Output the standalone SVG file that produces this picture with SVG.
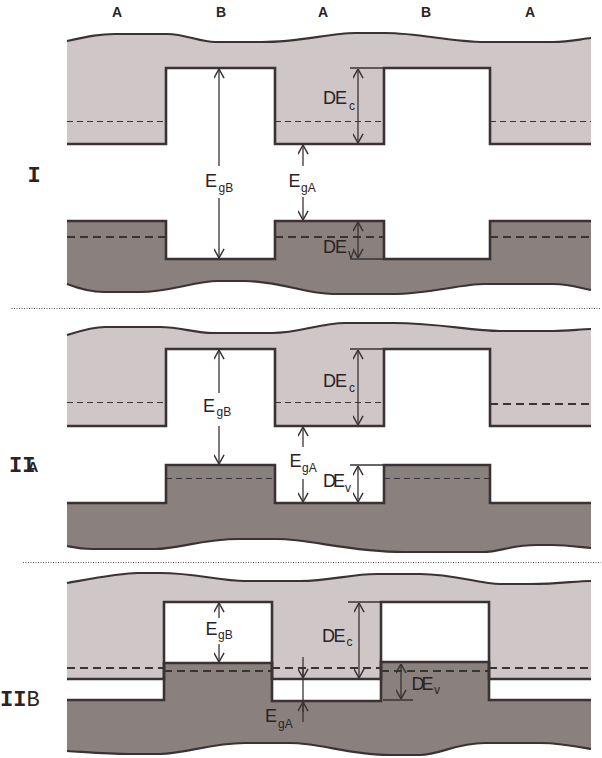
<svg xmlns="http://www.w3.org/2000/svg" width="602" height="758" viewBox="0 0 602 758">
<style>
.cb{fill:#cfc7c7;stroke:none}
.vb{fill:#8a807d;stroke:none}
.wave{fill:none;stroke:#3a3234;stroke-width:2.2}
.step{fill:none;stroke:#3a3234;stroke-width:2.6}
.dt{fill:none;stroke:#3a3234;stroke-width:1;stroke-dasharray:6 4}
.dk{fill:none;stroke:#3a3234;stroke-width:2;stroke-dasharray:8 5}
.sep{fill:none;stroke:#555;stroke-width:1;stroke-dasharray:1 1.5}
.arr{fill:none;stroke:#3a3234;stroke-width:1.3}
.arr1{marker-end:url(#ah)}
.arr2{marker-start:url(#ah);marker-end:url(#ah)}
.tick{fill:none;stroke:#3a3234;stroke-width:1.5}
.hd{font-family:"Liberation Sans",Arial,sans-serif;font-weight:bold;font-size:14px;fill:#2a2224;text-anchor:middle}
.big{font-family:"Liberation Sans",Arial,sans-serif;font-size:18px;fill:#2a2224}
.sub{font-family:"Liberation Sans",Arial,sans-serif;font-size:12px;fill:#2a2224}
.rom{font-family:"Liberation Mono","Courier New",monospace;font-size:22px;fill:#2a2224}
</style>
<defs>
<marker id="ah" viewBox="0 0 10 12" refX="10" refY="6" markerWidth="10" markerHeight="11" markerUnits="userSpaceOnUse" orient="auto-start-reverse">
<path d="M0,0.5 L10,6 L0,11.5" fill="none" stroke="#3a3234" stroke-width="1.6"/>
</marker>
</defs>

<g id="top-labels">
<text class="hd" x="117" y="17">A</text>
<text class="hd" x="221" y="17">B</text>
<text class="hd" x="323" y="17">A</text>
<text class="hd" x="426" y="17">B</text>
<text class="hd" x="530" y="17">A</text>
</g>

<!-- Section I -->
<g id="sec-I">
<g id="I-conduction">
<path class="cb" d="M67,41 C90,36 100,34 115,34 L167,34 C185,34 200,42 215,42 L262,42 C300,42 330,33 355,33 L385,33 C420,33 450,42 485,42 L553,42 C570,42 580,39 591,38 V144 H490 V68 H384 V144 H275 V68 H166 V144 H67 Z"/>
<path class="wave" d="M67,41 C90,36 100,34 115,34 L167,34 C185,34 200,42 215,42 L262,42 C300,42 330,33 355,33 L385,33 C420,33 450,42 485,42 L553,42 C570,42 580,39 591,38"/>
<path class="dt" d="M67,121.5 H166 M275,121.5 H384 M490,121.5 H591"/>
<path class="step" d="M67,144 H166 V68 H275 V144 H384 V68 H490 V144 H591"/>
</g>
<g id="I-valence">
<path class="vb" d="M67,221 H166 V259 H275 V221 H384 V259 H490 V221 H591 V290 C580,288 570,284 553,284 L485,284 C460,284 430,294 392,294 L333,294 C305,294 280,281 245,281 L218,281 C195,281 170,292 140,292 L104,292 C90,292 80,289 67,284 Z"/>
<path class="wave" d="M591,290 C580,288 570,284 553,284 L485,284 C460,284 430,294 392,294 L333,294 C305,294 280,281 245,281 L218,281 C195,281 170,292 140,292 L104,292 C90,292 80,289 67,284"/>
<path class="dk" d="M67,237 H166 M275,237 H384 M490,237 H591"/>
<path class="step" d="M67,221 H166 V259 H275 V221 H384 V259 H490 V221 H591"/>
</g>
<g id="I-labels">
<text class="rom" x="34" y="182" text-anchor="middle" font-weight="bold">I</text>
<text class="big" x="205" y="187">E</text><text class="sub" x="218.5" y="192">gB</text>
<text class="big" x="288.5" y="187">E</text><text class="sub" x="301" y="192">gA</text>
<text class="big" x="323" y="104" letter-spacing="-1">DE</text><text class="sub" x="349" y="110">c</text>
<text class="big" x="323" y="253" letter-spacing="-1">DE</text><text class="sub" x="348" y="258">v</text>
</g>
</g>

<path class="sep" d="M11.5,308.5 H601"/>

<!-- Section IIA -->
<g id="sec-IIA">
<g id="IIA-conduction">
<path class="cb" d="M67,335 C80,331 92,327 105,327 L160,327 C180,327 195,333 213,333 L272,333 C300,333 320,323 345,323 L393,323 C440,323 470,331 500,331 L553,331 C570,331 580,329 591,329 V426 H490 V349 H384 V426 H275 V349 H166 V426 H67 Z"/>
<path class="wave" d="M67,335 C80,331 92,327 105,327 L160,327 C180,327 195,333 213,333 L272,333 C300,333 320,323 345,323 L393,323 C440,323 470,331 500,331 L553,331 C570,331 580,329 591,329"/>
<path class="dt" d="M67,402.5 H166 M275,402.5 H384"/>
<path class="dk" d="M490,404 H591"/>
<path class="step" d="M67,426 H166 V349 H275 V426 H384 V349 H490 V426 H591"/>
</g>
<g id="IIA-valence">
<path class="vb" d="M67,503 H166 V465 H275 V503 H384 V465 H490 V503 H591 V548 C580,547 565,545 553,545 L537,545 C510,545 500,552 483,552 L404,552 C350,552 310,539 277,539 L240,539 C200,539 180,549 155,549 L92,549 C80,549 72,547 67,546 Z"/>
<path class="wave" d="M591,548 C580,547 565,545 553,545 L537,545 C510,545 500,552 483,552 L404,552 C350,552 310,539 277,539 L240,539 C200,539 180,549 155,549 L92,549 C80,549 72,547 67,546"/>
<path class="dt" d="M166,478.5 H275 M384,478.5 H490"/>
<path class="step" d="M67,503 H166 V465 H275 V503 H384 V465 H490 V503 H591"/>
</g>
<g id="IIA-labels">
<text class="rom" x="9" y="472" font-size="20" font-weight="bold">II</text>
<text x="27.5" y="472" font-family="'Liberation Sans',Arial,sans-serif" font-weight="bold" font-size="15" fill="#2a2224">A</text>
<text class="big" x="203" y="412">E</text><text class="sub" x="216.5" y="416">gB</text>
<text class="big" x="289.5" y="467">E</text><text class="sub" x="302" y="472">gA</text>
<text class="big" x="323" y="387" letter-spacing="-1">DE</text><text class="sub" x="349" y="392">c</text>
<text class="big" x="323" y="487" letter-spacing="-3">DE</text><text class="sub" x="345" y="492">v</text>
</g>
</g>

<path class="sep" d="M23,562.5 H601"/>

<!-- Section IIB -->
<g id="sec-IIB">
<g id="IIB-conduction">
<path class="cb" d="M67,583 C95,578 120,573 138,573 L160,573 C195,573 220,581 245,581 L300,581 C330,581 350,574 377,574 L420,574 C455,574 480,584 500,584 L530,584 C560,584 575,581 591,581 V679 H489 V602 H381 V679 H272 V602 H164 V679 H67 Z"/>
<path class="wave" d="M67,583 C95,578 120,573 138,573 L160,573 C195,573 220,581 245,581 L300,581 C330,581 350,574 377,574 L420,574 C455,574 480,584 500,584 L530,584 C560,584 575,581 591,581"/>
</g>
<g id="IIB-valence">
<path class="vb" d="M67,700 H164 V663 H272 V701 H381 V662 H489 V700 H591 V749 C575,746 560,743 540,743 L485,743 C455,743 440,755 420,755 L390,755 C350,755 320,743 290,743 L245,743 C210,743 185,754 160,754 L130,754 C105,754 85,752 67,751 Z"/>
<path class="wave" d="M591,749 C575,746 560,743 540,743 L485,743 C455,743 440,755 420,755 L390,755 C350,755 320,743 290,743 L245,743 C210,743 185,754 160,754 L130,754 C105,754 85,752 67,751"/>
</g>
<path class="dk" d="M67,668 H164 M272,668 H381 M489,668 H591"/>
<path class="dk" d="M164,671 H272 M381,671 H489"/>
<path class="step" d="M67,679 H164 V602 H272 V679 H381 V602 H489 V679 H591"/>
<path class="step" d="M67,700 H164 V663 H272 V701 H381 V662 H489 V700 H591"/>
<g id="IIB-labels">
<text class="rom" x="0" y="706"><tspan font-weight="bold">II</tspan>B</text>
<text class="big" x="205.5" y="635">E</text><text class="sub" x="218" y="639">gB</text>
<text class="big" x="322" y="642" letter-spacing="-1.5">DE</text><text class="sub" x="346.5" y="646">c</text>
<text class="big" x="265" y="722">E</text><text class="sub" x="278" y="728">gA</text>
<text class="big" x="411.5" y="690" letter-spacing="-3">DE</text><text class="sub" x="434" y="694">v</text>
</g>
</g>

<g id="connectors">
<!-- I -->
<path class="arr arr1" d="M219,166 V69"/>
<path class="arr arr1" d="M219,198 V258"/>
<path class="arr arr1" d="M303,166 V145"/>
<path class="arr arr1" d="M303,197 V220"/>
<path class="arr arr2" d="M358,69 V143"/>
<path class="tick" d="M350,68 H384"/>
<path class="arr arr2" d="M358,222 V258"/>
<path class="tick" d="M350,259 H384"/>
<!-- IIA -->
<path class="arr arr1" d="M219,393 V350"/>
<path class="arr arr1" d="M219,426 V464"/>
<path class="arr arr1" d="M303,447 V427"/>
<path class="arr arr1" d="M303,479 V502"/>
<path class="arr arr2" d="M358,350 V425"/>
<path class="tick" d="M350,349 H384"/>
<path class="arr arr2" d="M358,466 V502"/>
<path class="tick" d="M350,465 H384"/>
<!-- IIB -->
<path class="arr arr1" d="M219,618 V603"/>
<path class="arr arr1" d="M219,644 V662"/>
<path class="arr arr2" d="M359,603 V678"/>
<path class="tick" d="M348,602 H381"/>
<path class="arr" d="M303,657 V722"/>
<path class="arr arr1" d="M303,668 V678"/>
<path class="arr arr1" d="M303,712 V702"/>
<path class="arr arr2" d="M401,664 V699"/>
<path class="tick" d="M383,700 H413"/>
</g>
</svg>
